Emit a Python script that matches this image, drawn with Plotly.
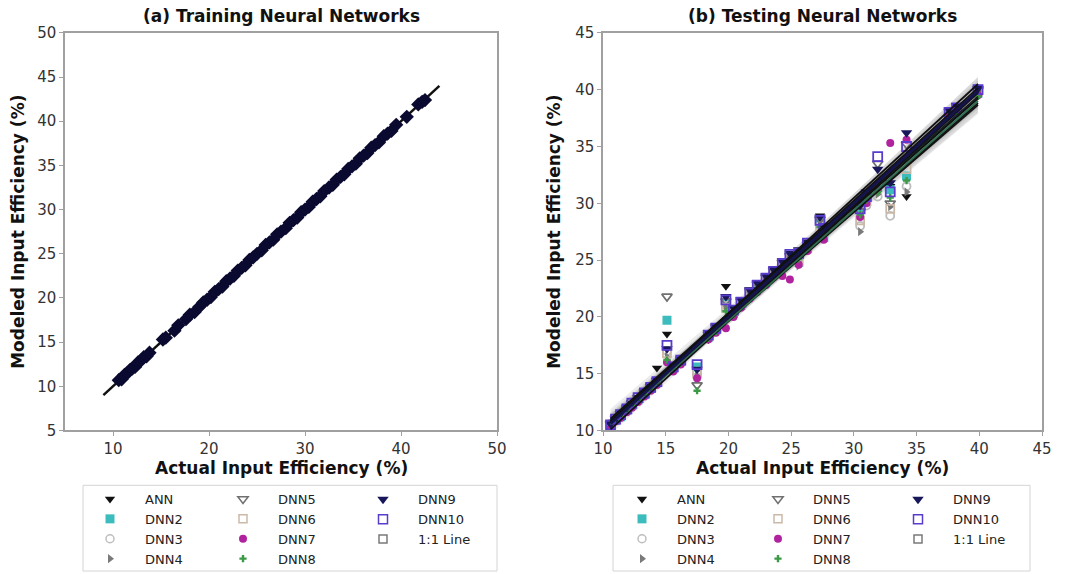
import numpy as np
import plotly.graph_objects as go

W, H = 1067, 574

# ---------------- data ----------------
models = ["ANN", "DNN2", "DNN3", "DNN4", "DNN5", "DNN6", "DNN7", "DNN8", "DNN9", "DNN10"]

train_actual = [10.6, 10.9, 11.2, 11.5, 11.8, 12.0, 12.3, 12.6, 12.9, 13.2, 13.5, 13.8, 15.2, 15.5,
                16.4, 16.8, 17.6, 18.0, 18.5, 19.0, 19.4, 19.8, 20.2, 20.6, 21.0, 21.4, 21.8, 22.2,
                22.6, 23.0, 23.4, 23.8, 24.2, 24.6, 25.0, 25.5, 25.9, 26.3, 26.7, 27.1, 27.5, 28.0,
                28.4, 28.8, 29.2, 29.6, 30.0, 30.4, 30.8, 31.2, 31.6, 32.0, 32.5, 32.9, 33.3, 33.7,
                34.1, 34.5, 34.9, 35.3, 35.7, 36.1, 36.5, 36.9, 37.3, 37.7, 38.2, 38.6, 39.0, 39.5,
                40.6, 41.8, 42.2, 42.5]
train_modeled = [10.7, 10.8, 11.3, 11.5, 11.9, 12.0, 12.2, 12.7, 12.9, 13.3, 13.4, 13.8, 15.3, 15.5,
                 16.3, 16.9, 17.6, 18.1, 18.4, 19.0, 19.5, 19.8, 20.1, 20.7, 21.0, 21.3, 21.9, 22.2,
                 22.5, 23.1, 23.4, 23.7, 24.3, 24.6, 25.0, 25.4, 26.0, 26.3, 26.6, 27.2, 27.5, 27.9,
                 28.5, 28.8, 29.1, 29.7, 30.0, 30.3, 30.9, 31.2, 31.5, 32.1, 32.5, 32.8, 33.4, 33.7,
                 34.0, 34.6, 34.9, 35.2, 35.8, 36.1, 36.4, 37.0, 37.3, 37.6, 38.3, 38.6, 38.9, 39.6,
                 40.5, 41.9, 42.2, 42.4]
train_line = [9.0, 44.0]

test_actual = [10.6, 11.0, 11.4, 11.9, 12.3, 12.8, 13.3, 13.8, 14.3, 15.1, 15.6, 16.2,
               17.5, 18.4, 19.0, 19.8, 20.4, 21.0, 21.7, 22.3, 23.0, 23.6, 24.3, 24.9,
               25.6, 26.3, 27.3, 27.6, 30.5, 31.0, 31.9, 32.9, 34.2, 37.6, 38.2, 39.9]
test_line = [10.6, 39.9]

test_pred = {
    "ANN":   [10.5, 10.8, 11.3, 11.7, 12.1, 12.6, 13.1, 13.6, 15.5, 18.5, 15.4, 16.0,
              14.8, 18.0, 18.8, 22.7, 20.6, 21.3, 22.2, 22.6, 23.4, 24.0, 24.6, 25.2,
              25.0, 26.1, 28.9, 27.2, 30.1, 30.8, 31.6, 31.5, 30.6, 37.9, 38.3, 39.6],
    "DNN2":  [10.4, 10.9, 11.2, 11.8, 12.2, 12.7, 13.2, 13.7, 14.2, 19.7, 15.5, 16.1,
              15.6, 18.2, 18.9, 21.2, 20.3, 21.0, 21.9, 22.5, 23.1, 23.8, 24.5, 25.0,
              24.8, 26.0, 28.2, 27.0, 29.6, 30.4, 31.4, 31.2, 32.4, 37.8, 38.0, 39.7],
    "DNN3":  [10.6, 11.0, 11.4, 11.8, 12.3, 12.7, 13.2, 13.7, 14.3, 17.0, 15.4, 16.0,
              15.2, 18.3, 18.8, 21.0, 20.5, 21.1, 21.8, 22.6, 23.2, 23.7, 24.4, 25.1,
              25.3, 26.2, 28.0, 27.4, 28.0, 29.8, 30.6, 28.9, 31.5, 38.0, 38.3, 39.8],
    "DNN4":  [10.5, 10.9, 11.3, 11.8, 12.2, 12.7, 13.2, 13.6, 14.2, 16.5, 15.3, 16.0,
              14.8, 18.1, 18.7, 20.8, 20.2, 21.0, 21.9, 22.4, 23.0, 23.8, 24.2, 25.0,
              24.5, 26.0, 27.5, 27.3, 27.5, 30.0, 30.8, 29.7, 31.0, 37.7, 38.2, 39.5],
    "DNN5":  [10.6, 11.1, 11.5, 11.9, 12.4, 12.9, 13.4, 13.9, 14.4, 21.8, 15.6, 16.2,
              14.0, 18.5, 19.1, 21.4, 20.7, 21.4, 22.3, 22.9, 23.5, 24.1, 24.8, 25.4,
              25.5, 26.4, 28.6, 27.8, 29.3, 30.7, 33.5, 30.0, 35.2, 38.1, 38.5, 40.0],
    "DNN6":  [10.5, 11.0, 11.4, 11.9, 12.3, 12.8, 13.3, 13.8, 14.3, 16.8, 15.5, 16.1,
              15.0, 18.3, 18.9, 20.8, 20.5, 21.2, 22.0, 22.6, 23.3, 23.9, 24.6, 25.2,
              24.9, 26.2, 27.8, 27.5, 28.5, 30.2, 31.8, 29.5, 33.0, 37.9, 38.4, 39.8],
    "DNN7":  [10.3, 10.8, 11.1, 11.6, 12.0, 12.5, 13.0, 13.5, 14.0, 16.0, 15.2, 15.8,
              14.6, 18.0, 18.6, 19.0, 20.0, 20.8, 21.6, 22.2, 22.8, 23.5, 23.6, 23.3,
              24.6, 25.8, 27.0, 26.8, 28.8, 30.0, 31.2, 35.3, 35.6, 37.6, 38.0, 39.5],
    "DNN8":  [10.5, 10.9, 11.3, 11.7, 12.2, 12.7, 13.1, 13.6, 14.1, 16.2, 15.4, 15.9,
              13.5, 18.1, 18.7, 20.5, 20.2, 21.0, 21.7, 22.3, 23.0, 23.6, 24.3, 24.8,
              25.1, 26.0, 27.9, 27.2, 29.0, 30.3, 31.0, 30.5, 32.0, 37.5, 37.9, 39.4],
    "DNN9":  [10.6, 11.0, 11.5, 12.0, 12.4, 12.9, 13.4, 13.9, 14.4, 17.2, 15.7, 16.3,
              15.4, 18.6, 19.2, 21.8, 20.8, 21.5, 22.4, 23.0, 23.6, 24.2, 24.9, 25.6,
              25.9, 26.6, 28.8, 28.0, 29.8, 31.0, 33.0, 31.8, 36.2, 38.2, 38.6, 40.1],
    "DNN10": [10.5, 11.0, 11.4, 11.9, 12.4, 12.9, 13.3, 13.8, 14.3, 17.5, 15.6, 16.2,
              15.8, 18.4, 19.0, 21.5, 20.6, 21.3, 22.1, 22.8, 23.4, 24.0, 24.7, 25.5,
              25.6, 26.5, 28.5, 27.8, 29.5, 30.6, 34.1, 31.0, 35.0, 38.0, 38.4, 40.0],
}

# ---------------- styles ----------------
styles = {
    "ANN":   dict(symbol="triangle-down", color="#111111", size=9),
    "DNN2":  dict(symbol="square", color="#3cbcbc", size=9),
    "DNN3":  dict(symbol="circle-open", color="#bdbdbd", size=8),
    "DNN4":  dict(symbol="triangle-right", color="#7a7a7a", size=8),
    "DNN5":  dict(symbol="triangle-down-open", color="#707070", size=9),
    "DNN6":  dict(symbol="square-open", color="#cbb9a8", size=8),
    "DNN7":  dict(symbol="circle", color="#b0229e", size=8),
    "DNN8":  dict(symbol="cross", color="#3c9a46", size=6),
    "DNN9":  dict(symbol="triangle-down", color="#17175a", size=10),
    "DNN10": dict(symbol="square-open", color="#5a3ccc", size=9),
}
line_style = dict(symbol="square-open", color="#7a7a7a", size=8)
reg_colors = {m: "#111111" for m in models}
reg_colors["DNN8"] = "#2f6e4e"
reg_colors["DNN2"] = "#1f4f4f"

fig = go.Figure()

# ---------------- (a) training ----------------
fig.add_trace(go.Scatter(x=train_line, y=train_line, mode="lines",
                         line=dict(color="#111111", width=2.5), showlegend=False,
                         xaxis="x", yaxis="y"))
fig.add_trace(go.Scatter(x=train_actual, y=train_modeled, mode="markers",
                         marker=dict(symbol="diamond", size=11, color="#0a0a30",
                                     line=dict(width=0)),
                         showlegend=False, xaxis="x", yaxis="y"))

# ---------------- (b) testing ----------------
xa = np.array(test_actual, dtype=float)
n = len(xa)
xm = xa.mean()
sxx = ((xa - xm) ** 2).sum()
xg = np.linspace(xa.min(), xa.max(), 60)
fits = {}
for m in models:
    ya = np.array(test_pred[m], dtype=float)
    b, a = np.polyfit(xa, ya, 1)
    resid = ya - (a + b * xa)
    s = np.sqrt((resid ** 2).sum() / (n - 2))
    yhat = a + b * xg
    se = 2.03 * s * np.sqrt(1.0 / n + (xg - xm) ** 2 / sxx)
    fits[m] = (yhat, se)
    fig.add_trace(go.Scatter(x=np.concatenate([xg, xg[::-1]]),
                             y=np.concatenate([yhat + se, (yhat - se)[::-1]]),
                             fill="toself", fillcolor="rgba(110,110,110,0.14)",
                             line=dict(width=0), mode="lines", hoverinfo="skip",
                             showlegend=False, xaxis="x2", yaxis="y2"))

for m in models:
    st = styles[m]
    fig.add_trace(go.Scatter(x=test_actual, y=test_pred[m], mode="markers",
                             marker=dict(symbol=st["symbol"], size=st["size"], color=st["color"],
                                         line=dict(width=1.8 if "open" in st["symbol"] else 0,
                                                   color=st["color"])),
                             showlegend=False, xaxis="x2", yaxis="y2"))

for m in models:
    yhat, se = fits[m]
    fig.add_trace(go.Scatter(x=xg, y=yhat, mode="lines",
                             line=dict(color=reg_colors[m], width=1.8),
                             showlegend=False, xaxis="x2", yaxis="y2"))

fig.add_trace(go.Scatter(x=test_line, y=test_line, mode="lines",
                         line=dict(color="#14144a", width=3), showlegend=False,
                         xaxis="x2", yaxis="y2"))

# ---------------- legends (column-major, 3 columns per panel) ----------------
columns = [["ANN", "DNN2", "DNN3", "DNN4"], ["DNN5", "DNN6", "DNN7", "DNN8"], ["DNN9", "DNN10", "1:1 Line"]]
left_cols_px = [75, 208, 348]
right_cols_px = [607, 743, 883]
legend_top_px = 486
leg_layout = {}
k = 1
for panel_cols in (left_cols_px, right_cols_px):
    for ci, col in enumerate(columns):
        key = "legend" if k == 1 else f"legend{k}"
        leg_layout[key] = dict(x=panel_cols[ci] / W, y=1 - legend_top_px / H,
                               xanchor="left", yanchor="top", orientation="v",
                               bgcolor="rgba(0,0,0,0)", borderwidth=0,
                               font=dict(family="DejaVu Sans", size=13, color="#222222"),
                               itemwidth=60, tracegroupgap=0, traceorder="normal")
        for name in col:
            st = styles.get(name, line_style)
            fig.add_trace(go.Scatter(x=[None], y=[None], mode="markers", name=name,
                                     marker=dict(symbol=st["symbol"], size=st["size"],
                                                 color=st["color"],
                                                 line=dict(width=1.5 if "open" in st["symbol"] else 0,
                                                           color=st["color"])),
                                     legend=key, showlegend=True, xaxis="x2", yaxis="y2"))
        k += 1

# ---------------- layout ----------------
axis_common = dict(showline=True, mirror=True, linecolor="#a0a0a0", linewidth=1.5,
                   ticks="outside", ticklen=4, tickcolor="#a0a0a0", tickwidth=1.2,
                   showgrid=False, zeroline=False, automargin=False,
                   tickfont=dict(family="DejaVu Sans", size=15, color="#333333"))
title_font = dict(family="DejaVu Sans", size=17, color="#111111")
yd = [1 - 432 / H, 1 - 33 / H]

def pxx(p):
    return p / W

def pxy(p):
    return 1 - p / H

fig.update_layout(
    width=W, height=H,
    margin=dict(l=0, r=0, t=0, b=0),
    paper_bgcolor="white", plot_bgcolor="white",
    font=dict(family="DejaVu Sans"),
    xaxis=dict(domain=[pxx(65), pxx(497)], range=[5, 50], tickvals=[10, 20, 30, 40, 50],
               anchor="y", **axis_common),
    yaxis=dict(domain=yd, range=[5, 50], dtick=5, anchor="x",
               title=dict(text="<b>Modeled Input Efficiency (%)</b>", font=title_font, standoff=8),
               **axis_common),
    xaxis2=dict(domain=[pxx(603), pxx(1042)], range=[10, 45], dtick=5, anchor="y2",
                **axis_common),
    yaxis2=dict(domain=yd, range=[10, 45], dtick=5, anchor="x2",
                title=dict(text="<b>Modeled Input Efficiency (%)</b>", font=title_font, standoff=10),
                **axis_common),
    annotations=[
        dict(text="<b>(a) Training Neural Networks</b>", x=pxx(281), y=pxy(4), xref="paper",
             yref="paper", showarrow=False, font=title_font, xanchor="center", yanchor="top"),
        dict(text="<b>(b) Testing Neural Networks</b>", x=pxx(822), y=pxy(4), xref="paper",
             yref="paper", showarrow=False, font=title_font, xanchor="center", yanchor="top"),
        dict(text="<b>Actual Input Efficiency (%)</b>", x=pxx(281), y=pxy(470), xref="paper",
             yref="paper", showarrow=False, font=title_font, xanchor="center", yanchor="middle"),
        dict(text="<b>Actual Input Efficiency (%)</b>", x=pxx(822), y=pxy(470), xref="paper",
             yref="paper", showarrow=False, font=title_font, xanchor="center", yanchor="middle"),
    ],
    shapes=[
        dict(type="rect", xref="paper", yref="paper", x0=pxx(83), x1=pxx(497),
             y0=pxy(573), y1=pxy(487), line=dict(color="#d4d4d4", width=1),
             fillcolor="white", layer="below"),
        dict(type="rect", xref="paper", yref="paper", x0=pxx(613), x1=pxx(1030),
             y0=pxy(573), y1=pxy(487), line=dict(color="#d4d4d4", width=1),
             fillcolor="white", layer="below"),
    ],
    **leg_layout,
)

fig.write_html("out.html", config={"displayModeBar": False},
               post_script="document.body.style.margin='0';document.body.style.padding='0';")
